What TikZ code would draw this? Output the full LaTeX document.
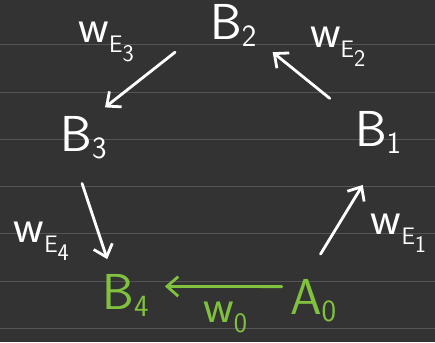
\documentclass[tikz,border=0pt]{standalone}
\usetikzlibrary{arrows.meta}
\definecolor{board}{RGB}{51,51,51}
\definecolor{ruled}{RGB}{85,85,85}
\definecolor{chalkgreen}{RGB}{128,194,62}
\tikzset{
  lbl/.style = {white, inner sep = 0pt, anchor = base west, font = \sffamily\fontsize{36}{40}\selectfont},
  wlbl/.style = {lbl, font = \sffamily\fontsize{34}{38}\selectfont},
  arr/.style = {white, line width = 2pt, line cap = round, -{Straight Barb[length = 8pt, width = 14pt]}},
  garr/.style = {arr, chalkgreen}
}
\newcommand{\vname}[2]{#1{\fontsize{22}{24}\selectfont\raisebox{-5pt}{#2}}}
\newcommand{\wname}[2]{w{\fontsize{17}{19}\selectfont\raisebox{-7pt}{#1\raisebox{-6pt}{#2}}}}
\begin{document}
\begin{tikzpicture}[x = 0.025cm, y = -0.025cm]
\fill[board] (0,0) rectangle (435,343);
\foreach \k in {0,...,6}
  \draw[ruled, line width = 0.6pt] (0, 45 + 47.3*\k) -- (435, 45 + 47.3*\k);
% vertices
\node[lbl] (b2) at (210,40) {\vname{B}{2}};
\node[lbl] (b1) at (355,147) {\vname{B}{1}};
\node[lbl] (b3) at (60,152) {\vname{B}{3}};
\node[lbl, chalkgreen] (b4) at (102,310) {\vname{B}{4}};
\node[lbl, chalkgreen] (a0) at (290,315) {\vname{A}{0}};
% weights
\node[wlbl] (we3) at (78,43) {\wname{E}{3}};
\node[wlbl] (we2) at (310,48) {\wname{E}{2}};
\node[wlbl] (we4) at (13,243) {\wname{E}{4}};
\node[wlbl] (we1) at (371,235) {\wname{E}{1}};
\node[wlbl, chalkgreen] (w0) at (203,323) {w{\fontsize{20}{22}\selectfont\raisebox{-7pt}{0}}};
% edges
\draw[arr] ([xshift = -0.625cm, yshift = 0.325cm]b1.north west) -- ([xshift = 0.4cm, yshift = -0.125cm]b2.south east);
\draw[arr] ([xshift = -0.875cm, yshift = -0.125cm]b2.south west) -- ([xshift = -0.05cm, yshift = 0.225cm]b3.north east);
\draw[arr] ([xshift = -0.04cm, yshift = -0.6cm]b3.south) -- ([xshift = 0.125cm, yshift = 0.375cm]b4.north west);
\draw[arr] ([xshift = -0.4cm, yshift = 0.625cm]a0.north east) -- ([xshift = 0.2cm, yshift = -0.775cm]b1.south west);
\draw[garr] ([xshift = -0.2cm, yshift = 0.35cm]a0.west) -- ([xshift = 0.4cm, yshift = 0.225cm]b4.east);
\end{tikzpicture}
\end{document}
